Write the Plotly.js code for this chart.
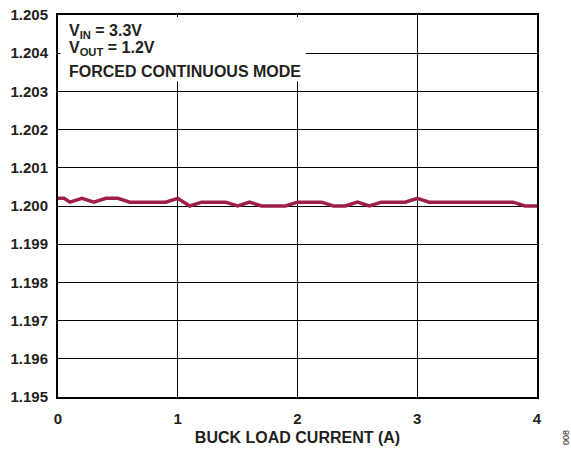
<!DOCTYPE html>
<html>
<head>
<meta charset="utf-8">
<script src="https://cdn.plot.ly/plotly-3.0.1.min.js"></script>
<style>html,body{margin:0;padding:0;background:#fff;}#chart{width:571px;height:452px;}</style>
</head>
<body>
<div id="chart"></div>
<script>
const loadCurrent = [0, 0.05, 0.1, 0.2, 0.3, 0.4, 0.5, 0.6, 0.7, 0.8, 0.9, 1.0, 1.1, 1.2, 1.3, 1.4, 1.5, 1.6, 1.7, 1.8, 1.9, 2.0, 2.1, 2.2, 2.3, 2.4, 2.5, 2.6, 2.7, 2.8, 2.9, 3.0, 3.1, 3.2, 3.3, 3.4, 3.5, 3.6, 3.7, 3.8, 3.9, 4.0];
const outputVoltage = [1.2002, 1.2002, 1.2001, 1.2002, 1.2001, 1.2002, 1.2002, 1.2001, 1.2001, 1.2001, 1.2001, 1.2002, 1.2000, 1.2001, 1.2001, 1.2001, 1.2000, 1.2001, 1.2000, 1.2000, 1.2000, 1.2001, 1.2001, 1.2001, 1.2000, 1.2000, 1.2001, 1.2000, 1.2001, 1.2001, 1.2001, 1.2002, 1.2001, 1.2001, 1.2001, 1.2001, 1.2001, 1.2001, 1.2001, 1.2001, 1.2000, 1.2000];
const xTicks = [0, 1, 2, 3, 4];
const yTicks = [1.195, 1.196, 1.197, 1.198, 1.199, 1.200, 1.201, 1.202, 1.203, 1.204, 1.205];
const yTickLabels = yTicks.map(v => v.toFixed(3));
const noteLines = ['V<sub>IN</sub> = 3.3V', 'V<sub>OUT</sub> = 1.2V', 'FORCED CONTINUOUS MODE'];
const noteY = [0.958, 0.912, 0.853];

const fontFam = '"Liberation Sans", Arial, sans-serif';
const ink = '#231f20';

const trace = {
  x: loadCurrent, y: outputVoltage, type: 'scatter', mode: 'lines',
  line: {color: '#a01e4a', width: 3.5}, hoverinfo: 'skip'
};

const annotations = noteLines.map((t, i) => ({
  xref: 'paper', yref: 'paper', x: 0.019, y: noteY[i], xanchor: 'left', yanchor: 'middle',
  text: '<b>' + t + '</b>', align: 'left', showarrow: false,
  font: {size: 16, family: fontFam, color: ink}
}));
annotations.push({xref: 'paper', yref: 'paper', x: 1.061, y: -0.107, xanchor: 'center', yanchor: 'middle',
  text: '008', textangle: -90, showarrow: false,
  font: {size: 9, family: fontFam, color: ink}});

const layout = {
  width: 571, height: 452,
  margin: {l: 58, r: 34, t: 15, b: 55},
  paper_bgcolor: '#fff', plot_bgcolor: '#fff',
  showlegend: false,
  font: {family: fontFam, color: ink},
  xaxis: {
    range: [0, 4], tickvals: xTicks, ticktext: xTicks.map(String),
    showgrid: true, gridcolor: '#000', gridwidth: 1,
    zeroline: false, showline: true, mirror: true, linecolor: '#000', linewidth: 2,
    ticks: '', tickfont: {size: 15, family: fontFam, weight: 'bold', color: ink},
    ticklabelstandoff: 7,
    title: {text: '<b>BUCK LOAD CURRENT (A)</b>', font: {size: 16, family: fontFam, color: ink}, standoff: 6}
  },
  yaxis: {
    range: [1.195, 1.205], tickvals: yTicks, ticktext: yTickLabels,
    showgrid: true, gridcolor: '#000', gridwidth: 1,
    zeroline: false, showline: true, mirror: true, linecolor: '#000', linewidth: 2,
    ticks: '', tickfont: {size: 15, family: fontFam, weight: 'bold', color: ink},
    ticklabelstandoff: 5
  },
  shapes: [{
    type: 'rect', xref: 'paper', yref: 'paper',
    x0: 0.005, x1: 0.517, y0: 0.826, y1: 0.995,
    fillcolor: '#fff', line: {width: 0}, layer: 'above'
  }],
  annotations: annotations
};

Plotly.newPlot('chart', [trace], layout, {displayModeBar: false, staticPlot: true});
</script>
</body>
</html>
